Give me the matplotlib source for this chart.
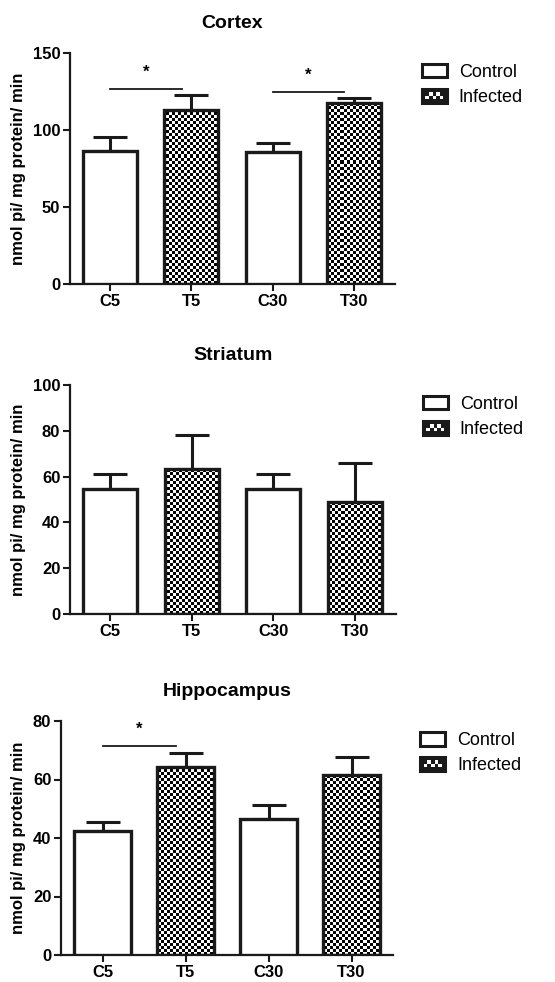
import numpy as np
import matplotlib
matplotlib.use("Agg")
import matplotlib.pyplot as plt
from matplotlib.patches import Rectangle
from matplotlib.legend_handler import HandlerBase

plt.rcParams['font.family'] = ['Liberation Sans', 'DejaVu Sans']

groups = ['C5', 'T5', 'C30', 'T30']
infected = [False, True, False, True]

cortex_mean = [86.6, 113.2, 85.7, 117.7]
cortex_err = [8.7, 9.7, 5.6, 2.9]
striatum_mean = [54.5, 63.2, 54.5, 49.1]
striatum_err = [6.7, 15.0, 6.7, 16.7]
hippo_mean = [42.5, 64.2, 46.4, 61.5]
hippo_err = [3.1, 5.0, 4.9, 6.1]

# significance: (from bar, to bar, height)
cortex_sig = [(0, 1, 126.8), (2, 3, 124.9)]
hippo_sig = [(0, 1, 71.5)]

panels = [
    ('Cortex', cortex_mean, cortex_err, cortex_sig, [0, 50, 100, 150], 150,
     [70 / 555, 1 - 284 / 982, 325 / 555, 231 / 982], (-0.49, 3.5), 0.66),
    ('Striatum', striatum_mean, striatum_err, [], [0, 20, 40, 60, 80, 100], 100,
     [70 / 555, 1 - 614 / 982, 326 / 555, 229 / 982], (-0.49, 3.5), 0.66),
    ('Hippocampus', hippo_mean, hippo_err, hippo_sig, [0, 20, 40, 60, 80], 80,
     [61 / 555, 1 - 955 / 982, 332 / 555, 234 / 982], (-0.5, 3.5), 0.69),
]

CELL = 3.0  # checker cell in pixels
INK = '#1a1a1a'


class CheckerHandler(HandlerBase):
    def create_artists(self, legend, orig_handle, xdescent, ydescent,
                       width, height, fontsize, trans):
        x0, y0 = -xdescent, -ydescent
        if orig_handle.get_label() != 'Infected':
            return [Rectangle((x0, y0), width, height, facecolor='white',
                              edgecolor=INK, lw=2.2, transform=trans)]
        arts = [Rectangle((x0, y0), width, height, facecolor=INK,
                          edgecolor=INK, lw=2.2, transform=trans)]
        nx, ny = 7, 4
        cw, ch = width / nx, height / ny
        for i in range(1, nx - 1):
            for j in range(1, ny - 1):
                if (i + j) % 2 == 0:
                    arts.append(Rectangle((x0 + i * cw, y0 + j * ch), cw, ch,
                                          facecolor='white', edgecolor='none',
                                          transform=trans))
        return arts


fig = plt.figure(figsize=(5.55, 9.82), dpi=100)

for title, mean, err, sig, yticks, ymax, pos, xlim, width in panels:
    ax = fig.add_axes(pos)
    x = np.arange(len(groups))
    ax.set_xlim(*xlim)
    ax.set_ylim(0, ymax)

    faces = ['none' if inf else 'white' for inf in infected]
    bars = ax.bar(x, mean, width=width, color=faces, edgecolor=INK,
                  linewidth=2.4, zorder=3)
    # upper error bars only
    ax.errorbar(x, mean, yerr=[np.zeros(len(mean)), err], fmt='none',
                ecolor=INK, elinewidth=2.2, capsize=12, capthick=2.2, zorder=2)

    # checkerboard fill for infected bars
    bw = pos[2] * 555
    bh = pos[3] * 982
    nxc = int(bw / CELL)
    nyc = int(bh / CELL)
    board = (np.add.outer(np.arange(nyc), np.arange(nxc)) % 2).astype(float)
    for b, inf in zip(bars, infected):
        if inf:
            im = ax.imshow(board, cmap='gray', extent=(xlim[0], xlim[1], 0, ymax),
                           interpolation='nearest', aspect='auto', zorder=2.5,
                           vmin=0, vmax=1)
            im.set_clip_path(b)

    for i0, i1, h in sig:
        ax.plot([x[i0], x[i1] - 0.12], [h, h], color=INK, lw=1.3, zorder=4)
        ax.text((x[i0] + x[i1] - 0.12) / 2, h + ymax * 0.04, '*', ha='center',
                va='bottom', fontsize=12, fontweight='bold')

    ax.set_title(title, fontsize=14, fontweight='bold', pad=18)
    ax.set_ylabel('nmol pi/ mg protein/ min', fontsize=12, fontweight='bold', labelpad=5)
    ax.set_yticks(yticks)
    ax.set_xticks(x)
    ax.set_xticklabels(groups)
    for lab in ax.get_xticklabels() + ax.get_yticklabels():
        lab.set_fontweight('bold')
        lab.set_fontsize(12)
    ax.tick_params(axis='both', width=1.5, length=5, color=INK, pad=2)
    ax.spines['top'].set_visible(False)
    ax.spines['right'].set_visible(False)
    for s in ('left', 'bottom'):
        ax.spines[s].set_linewidth(1.6)
        ax.spines[s].set_color(INK)

    h1 = Rectangle((0, 0), 1, 1, label='Control')
    h2 = Rectangle((0, 0), 1, 1, label='Infected')
    ax.legend(handles=[h1, h2], loc='upper left', bbox_to_anchor=(1.06, 0.985),
              frameon=False, fontsize=13, handler_map={Rectangle: CheckerHandler()},
              handlelength=1.4, handleheight=0.8, handletextpad=0.65,
              labelspacing=0.45, borderaxespad=0)

fig.savefig('out.png', dpi=100)
